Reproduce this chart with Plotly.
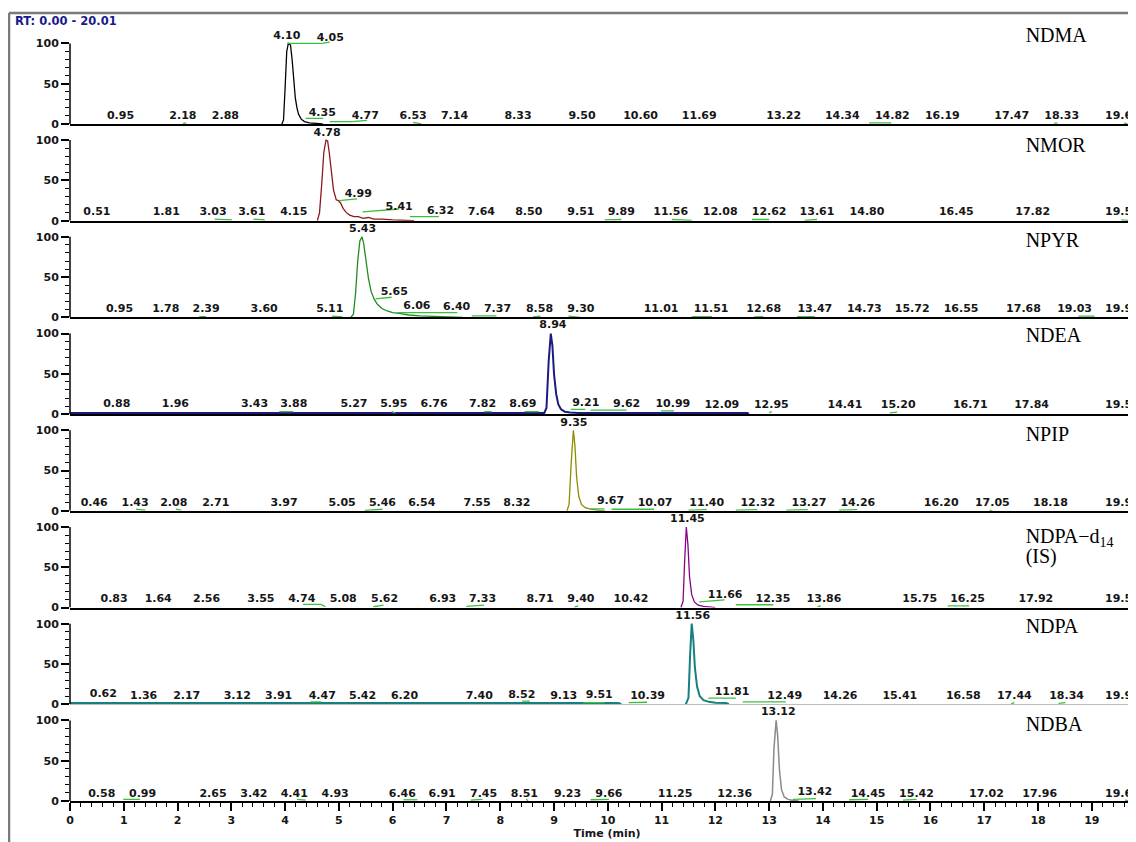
import plotly.graph_objects as go
from plotly.subplots import make_subplots

# ---------------- chromatogram data (time in min, relative abundance %) ----------------
ndma_t = [3.94, 3.97, 4.00, 4.03, 4.06, 4.10, 4.13, 4.16, 4.19, 4.22, 4.25, 4.30, 4.36, 4.45, 4.60, 4.70]
ndma_i = [0, 5, 45, 90, 100, 98, 80, 52, 32, 20, 12, 6, 3, 1.5, 0.5, 0]

nmor_t = [4.60, 4.64, 4.68, 4.72, 4.76, 4.79, 4.82, 4.86, 4.90, 4.95, 4.99, 5.03, 5.08, 5.14,
          5.20, 5.28, 5.36, 5.45, 5.55, 5.65, 5.80, 6.00, 6.30, 6.40]
nmor_i = [0, 10, 45, 85, 100, 99, 85, 60, 38, 26, 25, 22, 15, 10, 7, 5, 5, 3, 4, 2, 2, 1, 0.5, 0]

npyr_t = [5.22, 5.27, 5.31, 5.35, 5.39, 5.43, 5.46, 5.50, 5.55, 5.60, 5.66, 5.72, 5.80, 5.90,
          6.00, 6.12, 6.30, 6.50, 6.80, 7.20, 7.30]
npyr_i = [0, 4, 30, 70, 95, 100, 92, 70, 48, 32, 22, 16, 11, 8, 6, 5, 3, 2, 1, 0.5, 0]

ndea_t = [0, 8.82, 8.86, 8.90, 8.94, 8.97, 9.00, 9.04, 9.08, 9.13, 9.20, 9.30, 9.45, 12.60, 12.62]
ndea_i = [1.5, 1.5, 8, 65, 100, 85, 50, 25, 12, 6, 3, 2, 1.5, 1.5, 0]

npip_t = [9.24, 9.28, 9.32, 9.36, 9.39, 9.42, 9.46, 9.51, 9.58, 9.68, 9.85, 9.95]
npip_i = [0, 8, 60, 100, 80, 42, 18, 8, 4, 2, 0.5, 0]

ndpad_t = [11.36, 11.40, 11.43, 11.46, 11.49, 11.52, 11.56, 11.61, 11.68, 11.78, 11.92, 12.00]
ndpad_i = [0, 8, 60, 100, 78, 38, 16, 7, 3, 1.5, 0.5, 0]

ndpa_t = [0, 10.20, 10.25, None, 11.45, 11.50, 11.53, 11.56, 11.59, 11.62, 11.66, 11.71, 11.78, 11.88,
          12.00, 12.20, 12.25]
ndpa_i = [1.5, 1.5, 0, None, 0, 8, 60, 100, 80, 45, 22, 10, 5, 3, 2, 1.5, 0]

ndba_t = [13.02, 13.06, 13.09, 13.13, 13.16, 13.19, 13.23, 13.28, 13.35, 13.45, 13.55]
ndba_i = [0, 8, 65, 100, 80, 40, 14, 5, 2, 0.5, 0]

# ---------------- retention-time labels: (text, time, height %) ----------------
ndma_labels = [("0.95", 0.94, 10), ("2.18", 2.10, 10), ("2.88", 2.89, 10), ("4.10", 4.03, 109),
               ("4.05", 4.84, 106), ("4.35", 4.69, 13), ("4.77", 5.49, 10), ("6.53", 6.38, 10),
               ("7.14", 7.15, 10), ("8.33", 8.33, 10), ("9.50", 9.52, 10), ("10.60", 10.61, 10),
               ("11.69", 11.70, 10), ("13.22", 13.27, 10), ("14.34", 14.36, 10), ("14.82", 15.29, 10),
               ("16.19", 16.22, 10), ("17.47", 17.51, 10), ("18.33", 18.44, 10), ("19.63", 19.57, 10)]
nmor_labels = [("0.51", 0.50, 10), ("1.81", 1.79, 10), ("3.03", 2.66, 10), ("3.61", 3.38, 10),
               ("4.15", 4.16, 10), ("4.78", 4.78, 108.5), ("4.99", 5.36, 33), ("5.41", 6.12, 16.6),
               ("6.32", 6.89, 12), ("7.64", 7.65, 10), ("8.50", 8.53, 10), ("9.51", 9.50, 10),
               ("9.89", 10.25, 10), ("11.56", 11.17, 10), ("12.08", 12.09, 10), ("12.62", 13.00, 10),
               ("13.61", 13.89, 10), ("14.80", 14.82, 10), ("16.45", 16.48, 10), ("17.82", 17.90, 10),
               ("19.51", 19.57, 10)]
npyr_labels = [("0.95", 0.92, 10), ("1.78", 1.78, 10), ("2.39", 2.53, 10), ("3.60", 3.61, 10),
               ("5.11", 4.83, 10), ("5.43", 5.44, 109), ("5.65", 6.03, 31), ("6.06", 6.45, 14.4),
               ("6.40", 7.19, 12), ("7.37", 7.95, 10), ("8.58", 8.73, 10), ("9.30", 9.50, 10),
               ("11.01", 10.99, 10), ("11.51", 11.92, 10), ("12.68", 12.90, 10), ("13.47", 13.85, 10),
               ("14.73", 14.77, 10), ("15.72", 15.66, 10), ("16.55", 16.57, 10), ("17.68", 17.73, 10),
               ("19.03", 18.68, 10), ("19.93", 19.57, 10)]
ndea_labels = [("0.88", 0.87, 12), ("1.96", 1.96, 12), ("3.43", 3.43, 12), ("3.88", 4.16, 12),
               ("5.27", 5.28, 12), ("5.95", 6.02, 12), ("6.76", 6.77, 12), ("7.82", 7.67, 12),
               ("8.69", 8.42, 12), ("8.94", 8.98, 110), ("9.21", 9.59, 13.6), ("9.62", 10.35, 12.4),
               ("10.99", 11.21, 12.4), ("12.09", 12.12, 11), ("12.95", 13.04, 11), ("14.41", 14.41, 11),
               ("15.20", 15.40, 11), ("16.71", 16.74, 11), ("17.84", 17.88, 11), ("19.52", 19.57, 11)]
npip_labels = [("0.46", 0.45, 10), ("1.43", 1.21, 10), ("2.08", 1.93, 10), ("2.71", 2.71, 10),
               ("3.97", 3.98, 10), ("5.05", 5.06, 10), ("5.46", 5.81, 10), ("6.54", 6.54, 10),
               ("7.55", 7.57, 10), ("8.32", 8.31, 10), ("9.35", 9.37, 109), ("9.67", 10.05, 12.4),
               ("10.07", 10.88, 10), ("11.40", 11.84, 10), ("12.32", 12.79, 10), ("13.27", 13.74, 10),
               ("14.26", 14.65, 10), ("16.20", 16.20, 10), ("17.05", 17.15, 10), ("18.18", 18.23, 10),
               ("19.96", 19.57, 10)]
ndpad_labels = [("0.83", 0.82, 10.4), ("1.64", 1.64, 10.4), ("2.56", 2.54, 10.4), ("3.55", 3.55, 10.4),
                ("4.74", 4.31, 10.4), ("5.08", 5.08, 10.4), ("5.62", 5.85, 10.4), ("6.93", 6.93, 10.4),
                ("7.33", 7.67, 10.4), ("8.71", 8.74, 10.4), ("9.40", 9.50, 10.4), ("10.42", 10.43, 10.4),
                ("11.45", 11.48, 110), ("11.66", 12.18, 15.8), ("12.35", 13.07, 10.4), ("13.86", 14.02, 10.4),
                ("15.75", 15.80, 10.4), ("16.25", 16.69, 10.4), ("17.92", 17.96, 10.4), ("19.56", 19.57, 10.4)]
ndpa_labels = [("0.62", 0.62, 12.8), ("1.36", 1.37, 10.3), ("2.17", 2.17, 10.3), ("3.12", 3.11, 10.3),
               ("3.91", 3.88, 10.3), ("4.47", 4.69, 10.3), ("5.42", 5.44, 10.3), ("6.20", 6.22, 10.3),
               ("7.40", 7.61, 10.3), ("8.52", 8.40, 11.5), ("9.13", 9.18, 10.3), ("9.51", 9.84, 11.5),
               ("10.39", 10.74, 10.3), ("11.56", 11.58, 109.5), ("11.81", 12.31, 14.4), ("12.49", 13.29, 10.3),
               ("14.26", 14.32, 10.3), ("15.41", 15.43, 10.3), ("16.58", 16.61, 10.3), ("17.44", 17.56, 10.3),
               ("18.34", 18.53, 10.3), ("19.96", 19.57, 10.3)]
ndba_labels = [("0.58", 0.59, 8.3), ("0.99", 1.35, 8.3), ("2.65", 2.66, 8.3), ("3.42", 3.42, 8.3),
               ("4.41", 4.17, 8.3), ("4.93", 4.93, 8.3), ("6.46", 6.18, 8.3), ("6.91", 6.92, 8.3),
               ("7.45", 7.69, 8.3), ("8.51", 8.45, 8.3), ("9.23", 9.25, 8.3), ("9.66", 10.02, 8.3),
               ("11.25", 11.25, 8.3), ("12.36", 12.36, 8.3), ("13.12", 13.17, 109.7), ("13.42", 13.85, 10.8),
               ("14.45", 14.84, 8.3), ("15.42", 15.74, 8.3), ("17.02", 17.04, 8.3), ("17.96", 18.03, 8.3),
               ("19.63", 19.57, 8.3)]

# ---------------- integration baselines: (t start, t end, level start, level end) ----------------
ndma_base = [(4.04, 4.69, 100, 100), (4.69, 4.83, 100, 101.5), (4.38, 4.71, 7, 7), (4.83, 5.25, 3, 3),
             (5.25, 5.52, 3, 4.5), (2.10, 2.16, 0.5, 1.5), (6.38, 6.53, 2, 0), (14.86, 15.27, 1.5, 1.5),
             (18.30, 18.36, 1, 1), (19.60, 19.66, 1.5, 0)]
nmor_base = [(2.69, 3.01, 2, 1), (3.41, 3.62, 2, 1), (5.00, 5.34, 25, 27), (5.44, 6.12, 11, 14.5),
             (6.32, 6.86, 5, 5), (9.94, 10.25, 1, 1.5), (11.19, 11.56, 1.5, 0.5), (12.68, 13.00, 1.5, 1.5),
             (13.66, 13.89, 0.5, 1.5), (19.55, 19.80, 1, 0)]
npyr_base = [(2.40, 2.53, 1, 1), (4.87, 5.07, 1.5, 0.5), (5.68, 5.98, 23, 25), (6.08, 7.20, 6, 6),
             (7.47, 7.93, 2, 2), (8.61, 8.75, 0.5, 1.5), (9.27, 9.48, 1.5, 0), (11.56, 11.94, 1, 1),
             (12.72, 12.89, 0.5, 1), (13.52, 13.85, 1, 1), (18.75, 19.05, 1.5, 1.5)]
ndea_base = [(3.89, 4.15, 3, 3), (5.98, 6.05, 3, 1.5), (7.70, 7.84, 3, 3), (8.45, 8.72, 3, 3),
             (9.31, 9.58, 6, 6), (9.68, 10.35, 5, 5), (10.99, 11.23, 4, 4), (13.00, 13.05, 2, 3),
             (15.24, 15.38, 1.5, 2.5)]
npip_base = [(1.23, 1.40, 2, 1), (1.97, 2.07, 2, 1), (5.48, 5.81, 0.5, 2), (9.68, 9.94, 2.5, 2.5),
             (10.07, 10.86, 2, 2), (11.50, 11.84, 1, 1.5), (12.38, 12.78, 1, 1.5), (13.32, 13.72, 1, 1.5),
             (14.30, 14.64, 1, 1.5), (17.10, 17.15, 1, 0)]
ndpad_base = [(4.33, 4.67, 4, 4), (4.67, 4.75, 4, 1), (5.64, 5.83, 1, 3), (7.37, 7.70, 1.5, 3),
              (9.38, 9.45, 0.5, 2), (11.70, 12.17, 7, 9.5), (12.38, 13.08, 3.5, 3.5), (13.90, 13.96, 1, 2),
              (16.32, 16.72, 2, 2)]
ndpa_base = [(4.47, 4.67, 3, 3), (8.41, 8.55, 4, 4), (9.54, 9.94, 2, 2), (10.39, 10.73, 2, 2.5),
             (11.87, 12.38, 7.5, 7.5), (12.51, 13.31, 3, 3), (17.50, 17.56, 0.5, 2), (18.38, 18.51, 1, 2)]
ndba_base = [(0.99, 1.30, 2, 2), (4.22, 4.38, 2, 1), (6.20, 6.46, 1.5, 1.5), (7.45, 7.67, 1, 2),
             (8.48, 8.52, 2, 0.5), (9.68, 10.02, 1.5, 2), (13.44, 13.87, 2, 3), (14.49, 14.84, 1.5, 2),
             (15.49, 15.74, 1, 2), (19.62, 19.70, 1, 0)]

# compound names: (text, time, height %)
ndma_name = [("NDMA", 17.77, 108)]
nmor_name = [("NMOR", 17.77, 92)]
npyr_name = [("NPYR", 17.77, 94)]
ndea_name = [("NDEA", 17.77, 96)]
npip_name = [("NPIP", 17.77, 93)]
ndpad_name = [("NDPA\u2212d<sub>14</sub>", 17.77, 86), ("(IS)", 17.77, 61)]
ndpa_name = [("NDPA", 17.77, 94)]
ndba_name = [("NDBA", 17.77, 93)]

panels = [
    (ndma_t, ndma_i, ndma_labels, ndma_base, ndma_name, "#000000", 1.3),
    (nmor_t, nmor_i, nmor_labels, nmor_base, nmor_name, "#8b1a1a", 1.3),
    (npyr_t, npyr_i, npyr_labels, npyr_base, npyr_name, "#1e8c1e", 1.3),
    (ndea_t, ndea_i, ndea_labels, ndea_base, ndea_name, "#1c1c80", 2.0),
    (npip_t, npip_i, npip_labels, npip_base, npip_name, "#8c8c00", 1.3),
    (ndpad_t, ndpad_i, ndpad_labels, ndpad_base, ndpad_name, "#8b008b", 1.3),
    (ndpa_t, ndpa_i, ndpa_labels, ndpa_base, ndpa_name, "#177f7f", 2.0),
    (ndba_t, ndba_i, ndba_labels, ndba_base, ndba_name, "#8a8a8a", 1.5),
]

# ---------------- figure ----------------
W, H = 1136, 842
PAGE_OFFSET = 8            # the html body margin shifts the figure by 8 px
X0_PX = 70 - PAGE_OFFSET
PX_PER_MIN = 53.78
FIRST_BASE = 124.0 - PAGE_OFFSET
PITCH = 96.71
NUM_FONT = dict(family="DejaVu Sans", size=11, color="#161616", weight="bold")
NAME_FONT = dict(family="Liberation Serif", size=20, color="#000000")
GREEN = "#3cbf3c"

n = len(panels)
fig = make_subplots(rows=n, cols=1, shared_xaxes=True, vertical_spacing=0)

shapes = []
for k, (t, inten, labels, base, name, color, lw) in enumerate(panels):
    row = k + 1
    fig.add_trace(go.Scatter(x=t, y=inten, mode="lines", line=dict(color=color, width=lw),
                             connectgaps=False, hoverinfo="skip", showlegend=False), row=row, col=1)
    gx, gy = [], []
    for (a, b, ya, yb) in base:
        gx += [a, b, None]
        gy += [ya, yb, None]
    fig.add_trace(go.Scatter(x=gx, y=gy, mode="lines", line=dict(color=GREEN, width=1.3),
                             hoverinfo="skip", showlegend=False), row=row, col=1)
    fig.add_trace(go.Scatter(x=[p[1] for p in labels], y=[p[2] for p in labels],
                             text=[p[0] for p in labels], mode="text", textposition="middle center",
                             textfont=NUM_FONT, cliponaxis=False, hoverinfo="skip", showlegend=False),
                  row=row, col=1)
    fig.add_trace(go.Scatter(x=[p[1] for p in name], y=[p[2] for p in name],
                             text=[p[0] for p in name], mode="text", textposition="middle right",
                             textfont=NAME_FONT, cliponaxis=False, hoverinfo="skip", showlegend=False),
                  row=row, col=1)

    xa = "x" if row == 1 else f"x{row}"
    ya = "y" if row == 1 else f"y{row}"
    base_px = FIRST_BASE + PITCH * k
    ydom = [1 - base_px / H, 1 - (base_px - PITCH) / H]
    fig.layout[f"yaxis{'' if row == 1 else row}"].update(
        domain=ydom, range=[0, 120], tickmode="array", tickvals=[0, 50, 100],
        ticks="outside", ticklen=8, tickwidth=1.5, tickcolor="#000000", automargin=False,
        showline=False, showgrid=False, zeroline=False, tickfont=NUM_FONT,
        minor=dict(tickmode="array", tickvals=[10, 20, 30, 40, 60, 70, 80, 90], ticks="outside",
                   ticklen=4, tickwidth=1, tickcolor="#000000"),
        fixedrange=True,
    )
    xkw = dict(domain=[X0_PX / W, 1], range=[0, (W - X0_PX) / PX_PER_MIN], showline=True,
               linecolor="#000000", linewidth=2, showgrid=False, zeroline=False, fixedrange=True,
               automargin=False)
    if row == n:
        xkw.update(tickmode="linear", tick0=0, dtick=1, ticks="outside", ticklen=8, tickwidth=1.5,
                   tickcolor="#000000", showticklabels=True, tickfont=NUM_FONT,
                   minor=dict(dtick=0.2, ticks="outside", ticklen=4, tickwidth=1, tickcolor="#000000"),
                   title=dict(text="Time (min)", font=dict(family="DejaVu Sans", size=11,
                                                          color="#161616", weight="bold"), standoff=2))
    else:
        xkw.update(ticks="", showticklabels=False)
    fig.layout[f"xaxis{'' if row == 1 else row}"].update(**xkw)

    shapes.append(dict(type="line", xref=f"{xa} domain", yref=ya, x0=0, x1=0, y0=0, y1=100,
                       line=dict(color="#000000", width=1.5)))

FRAME_X = 9 - PAGE_OFFSET
FRAME_Y = 13 - PAGE_OFFSET
shapes.append(dict(type="line", xref="paper", yref="paper", x0=FRAME_X / W, x1=1,
                   y0=1 - FRAME_Y / H, y1=1 - FRAME_Y / H, line=dict(color="#7a7a7a", width=2.5)))
shapes.append(dict(type="line", xref="paper", yref="paper", x0=FRAME_X / W, x1=FRAME_X / W,
                   y0=0, y1=1 - FRAME_Y / H, line=dict(color="#7a7a7a", width=2.5)))

fig.update_layout(
    width=W, height=H, margin=dict(l=0, r=0, t=0, b=0, autoexpand=False),
    paper_bgcolor="#ffffff", plot_bgcolor="#ffffff", showlegend=False,
    shapes=shapes,
    annotations=[dict(text="RT: 0.00 - 20.01", xref="paper", yref="paper",
                      x=(13 - PAGE_OFFSET) / W, y=1 - (21 - PAGE_OFFSET) / H,
                      xanchor="left", yanchor="middle", showarrow=False,
                      font=dict(family="DejaVu Sans", size=11.5, color="#1a1a8c", weight="bold"))],
)

fig.write_html("out.html")
